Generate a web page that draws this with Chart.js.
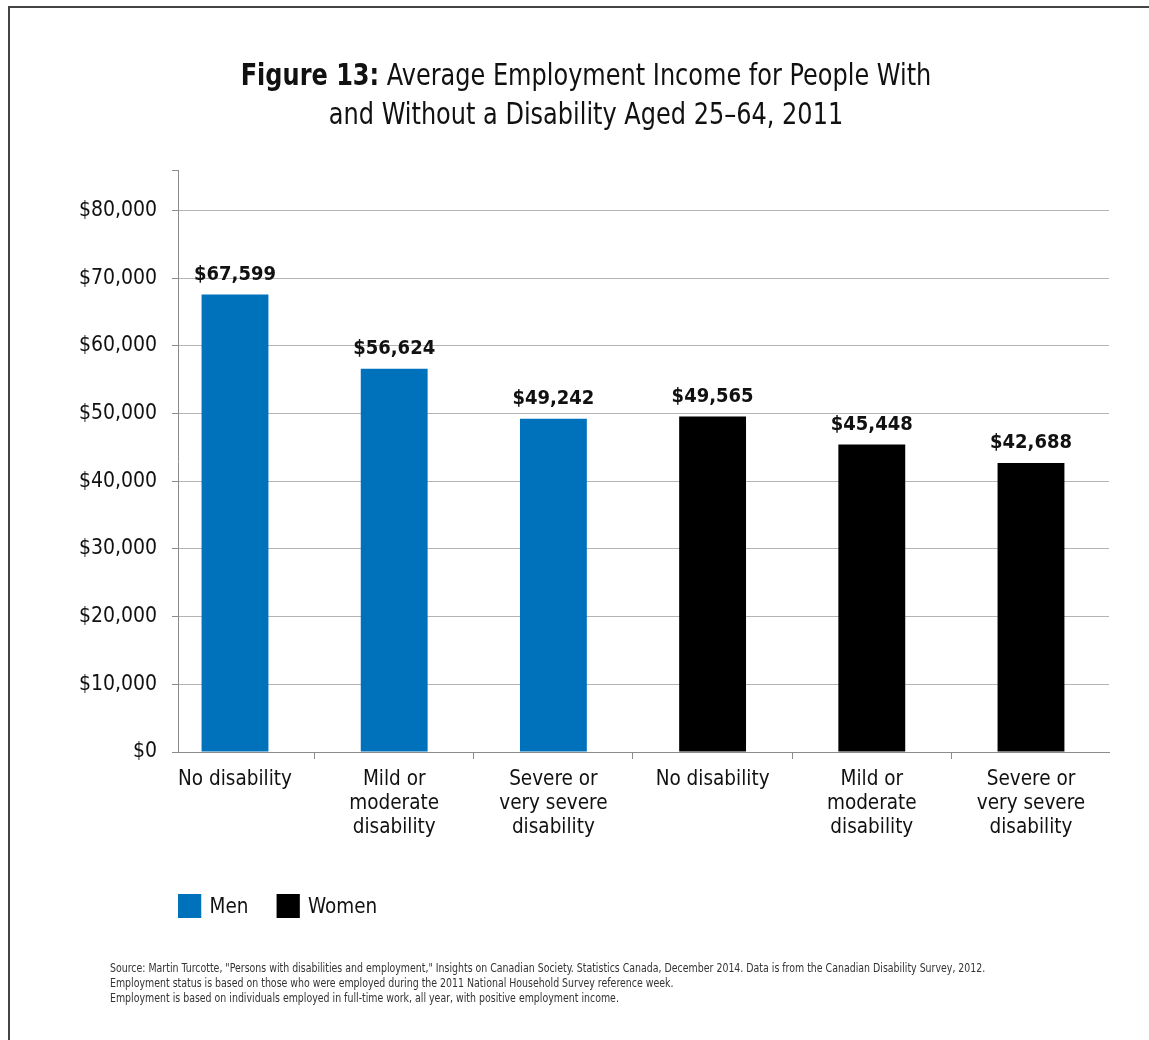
<!DOCTYPE html>
<html>
<head>
<meta charset="utf-8">
<title>Average Employment Income</title>
<script src="https://cdn.jsdelivr.net/npm/chart.js@4.4.1/dist/chart.umd.min.js"></script>
<style>
  html, body { margin: 0; padding: 0; background: #fff; }
  body { width: 1149px; height: 1040px; position: relative; overflow: hidden;
         font-family: "DejaVu Sans Condensed", "Liberation Sans", sans-serif; color: #111; }
  .frame { position: absolute; left: 8px; top: 6px; right: -4px; bottom: -4px;
           border-left: 2px solid #444; border-top: 2px solid #444; }
  #wrap { position: absolute; left: 0; top: 0; width: 1149px; height: 1040px; }
  .title { position: absolute; left: 0; width: 1172px; top: 55px; text-align: center;
           font-size: 30px; line-height: 39px; color: #111;
           transform: scaleX(0.89); transform-origin: 586px 0; }
  .title b { font-weight: bold; }
  #legend { position: absolute; left: 178px; top: 893px; display: flex; align-items: center;
            font-size: 22px; color: #111; transform: scaleX(0.93); transform-origin: 0 0; }
  #legend .item { display: flex; align-items: center; margin-right: 30px; }
  #legend .box { width: 25px; height: 24px; margin-right: 9px; }
  .notes { position: absolute; left: 110px; top: 961px; font-size: 11.5px; line-height: 15px; color: #333;
           white-space: nowrap; transform: scaleX(0.91); transform-origin: 0 0; }
</style>
</head>
<body>
<div class="frame"></div>
<div id="wrap"><canvas id="incomeChart" width="1149" height="1040"></canvas></div>
<div class="title"><b>Figure 13:</b> Average Employment Income for People With<br>and Without a Disability Aged 25–64, 2011</div>
<div id="legend"></div>
<div class="notes">
  Source: Martin Turcotte, "Persons with disabilities and employment," Insights on Canadian Society. Statistics Canada, December 2014. Data is from the Canadian Disability Survey, 2012.<br>
  Employment status is based on those who were employed during the 2011 National Household Survey reference week.<br>
  Employment is based on individuals employed in full-time work, all year, with positive employment income.
</div>

<script>
// Categories (men first, then women)
const categories = [
    ['No disability'],
    ['Mild or', 'moderate', 'disability'],
    ['Severe or', 'very severe', 'disability'],
    ['No disability'],
    ['Mild or', 'moderate', 'disability'],
    ['Severe or', 'very severe', 'disability']
];

const menIncome = [67599, 56624, 49242];
const womenIncome = [49565, 45448, 42688];

const seriesNames = ['Men', 'Women'];
const seriesColors = ['#0071BB', '#000000'];

const yTicks = [0, 10000, 20000, 30000, 40000, 50000, 60000, 70000, 80000];
const yMax = 86000;

const FONT = '"DejaVu Sans Condensed", "Liberation Sans", sans-serif';

function money(v) {
    return '$' + v.toLocaleString('en-US');
}

// Value labels above each bar
const barLabels = {
    id: 'barLabels',
    afterDatasetsDraw(chart) {
        const ctx = chart.ctx;
        ctx.save();
        ctx.font = 'bold 20px ' + FONT;
        ctx.fillStyle = '#111';
        ctx.textAlign = 'center';
        ctx.textBaseline = 'bottom';
        chart.data.datasets.forEach((ds, i) => {
            chart.getDatasetMeta(i).data.forEach((bar, j) => {
                ctx.fillText(money(ds.data[j].y), bar.x, bar.y - 10);
            });
        });
        ctx.restore();
    }
};

const menPoints = menIncome.map((v, i) => ({ x: i, y: v }));
const womenPoints = womenIncome.map((v, i) => ({ x: i + menIncome.length, y: v }));

const ctx = document.getElementById('incomeChart').getContext('2d');
const chart = new Chart(ctx, {
    type: 'bar',
    data: {
        datasets: [{
            label: seriesNames[0],
            data: menPoints,
            backgroundColor: seriesColors[0],
            barPercentage: 0.42,
            categoryPercentage: 1
        }, {
            label: seriesNames[1],
            data: womenPoints,
            backgroundColor: seriesColors[1],
            barPercentage: 0.42,
            categoryPercentage: 1
        }]
    },
    options: {
        responsive: false,
        animation: false,
        grouped: false,
        layout: { padding: { top: 170, right: 40, bottom: 188, left: 0 } },
        plugins: {
            legend: { display: false },
            tooltip: { enabled: false }
        },
        scales: {
            x: {
                type: 'linear',
                offset: false,
                min: -0.358,
                max: 5.49,
                afterBuildTicks: function(axis) {
                    axis.ticks = categories.map((c, i) => ({ value: i }));
                },
                afterFit: function(axis) { axis.height = 100; },
                border: { color: '#8c8c8c', width: 1 },
                grid: {
                    offset: true,
                    drawOnChartArea: false,
                    color: '#8c8c8c',
                    tickLength: 7
                },
                ticks: {
                    autoSkip: false,
                    maxRotation: 0,
                    padding: 9,
                    color: '#111',
                    font: { family: FONT, size: 20.5, lineHeight: 1.17 },
                    callback: function(value) { return categories[value]; }
                }
            },
            y: {
                min: 0,
                max: yMax,
                afterBuildTicks: function(axis) {
                    axis.ticks = yTicks.concat([yMax]).map(v => ({ value: v }));
                },
                afterFit: function(axis) { axis.width = 178; },
                border: { color: '#8c8c8c', width: 1 },
                grid: {
                    color: ctx => ctx.tick && ctx.tick.value === yMax ? 'rgba(0,0,0,0)' : '#b4b4b4',
                    tickColor: '#8c8c8c',
                    tickLength: 6
                },
                ticks: {
                    padding: 15,
                    color: '#111',
                    font: { family: FONT, size: 21 },
                    callback: function(value) { return value === yMax ? '' : money(value); }
                }
            }
        }
    },
    plugins: [barLabels]
});

// Legend built from the series arrays
const legend = document.getElementById('legend');
seriesNames.forEach((name, i) => {
    const item = document.createElement('div');
    item.className = 'item';
    const box = document.createElement('span');
    box.className = 'box';
    box.style.background = seriesColors[i];
    const text = document.createElement('span');
    text.textContent = name;
    item.appendChild(box);
    item.appendChild(text);
    legend.appendChild(item);
});
</script>
</body>
</html>
